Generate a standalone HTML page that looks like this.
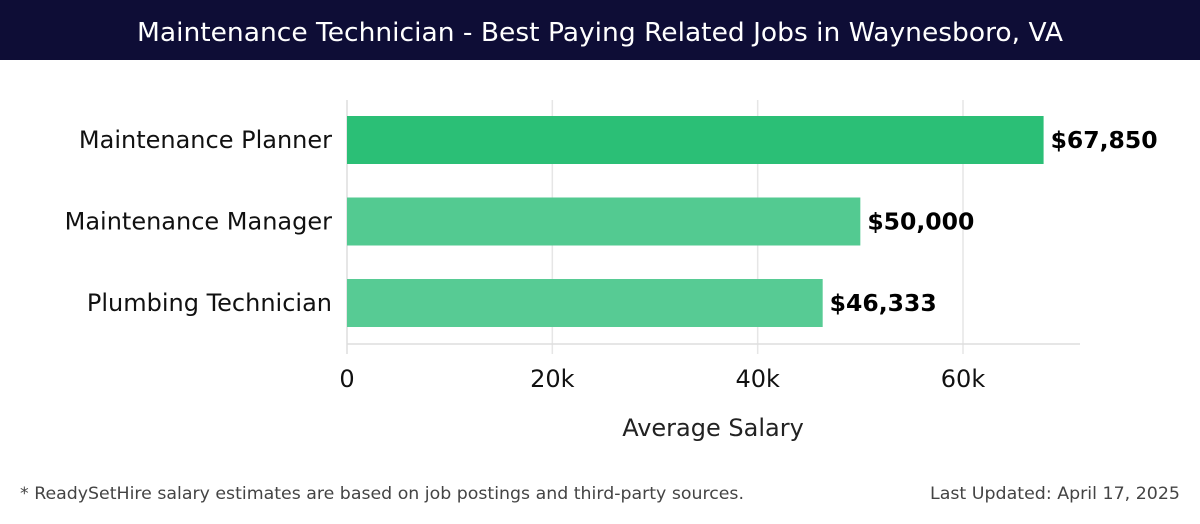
<!DOCTYPE html>
<html><head><meta charset="utf-8"><style>
body{margin:0;width:1200px;height:520px;background:#fff;overflow:hidden;font-family:"DejaVu Sans","Liberation Sans",sans-serif}
</style></head><body>
<svg width="1200" height="520">
<rect x="0" y="0" width="1200" height="60" fill="#0e0d36"/>
<text x="600" y="41" text-anchor="middle" fill="#fff" font-size="26" font-family="DejaVu Sans, sans-serif" textLength="926" lengthAdjust="spacingAndGlyphs">Maintenance Technician - Best Paying Related Jobs in Waynesboro, VA</text>
<g id="plot"></g>
<text x="713" y="436" text-anchor="middle" font-size="24" fill="#222">Average Salary</text>
<text x="20" y="499" font-size="17" fill="#444" textLength="724" lengthAdjust="spacingAndGlyphs">* ReadySetHire salary estimates are based on job postings and third-party sources.</text>
<text x="930" y="499" font-size="17" fill="#444" textLength="250" lengthAdjust="spacingAndGlyphs">Last Updated: April 17, 2025</text>
</svg>
<script>
const categories=["Maintenance Planner","Maintenance Manager","Plumbing Technician"];
const salaries=[67850,50000,46333];
const valueLabels=["$67,850","$50,000","$46,333"];
const ticks=[0,20000,40000,60000];
const tickLabels=["0","20k","40k","60k"];
const colors=["#2bbf76","#53ca91","#57cb94"];
const NS="http://www.w3.org/2000/svg";
const g=document.getElementById('plot');
const x=v=>347+v*(963-347)/60000;
const yTop=i=>116+i*81.5;
function mk(t,a,txt){const e=document.createElementNS(NS,t);for(const k in a)e.setAttribute(k,a[k]);if(txt!==undefined)e.textContent=txt;g.appendChild(e);return e;}
ticks.forEach((t,i)=>{
 const l=mk('line',{x1:x(t),x2:x(t),y1:100,y2:354,stroke:i==0?'#ddd':'#e6e6e6','stroke-width':1.5});
 
 
 const tx=mk('text',{x:x(t),y:387,'text-anchor':'middle','font-size':24,fill:'#111'},tickLabels[i]);
 
 
});
const ax=mk('line',{x1:347,x2:1080,y1:344,y2:344,stroke:'#ddd','stroke-width':1.5});


categories.forEach((c,i)=>{
 const y=yTop(i);
 const r=mk('rect',{x:x(0),y:y,width:x(salaries[i])-x(0),height:48,fill:colors[i]});
 
 
 const cl=mk('text',{x:332,y:y+32,'text-anchor':'end','font-size':24,fill:'#111'},c);
 
 
 const vl=mk('text',{x:x(salaries[i])+7,y:y+32,'font-size':23.5,'font-weight':'bold',fill:'#000'},valueLabels[i]);
 
 
});
</script>
</body></html>
